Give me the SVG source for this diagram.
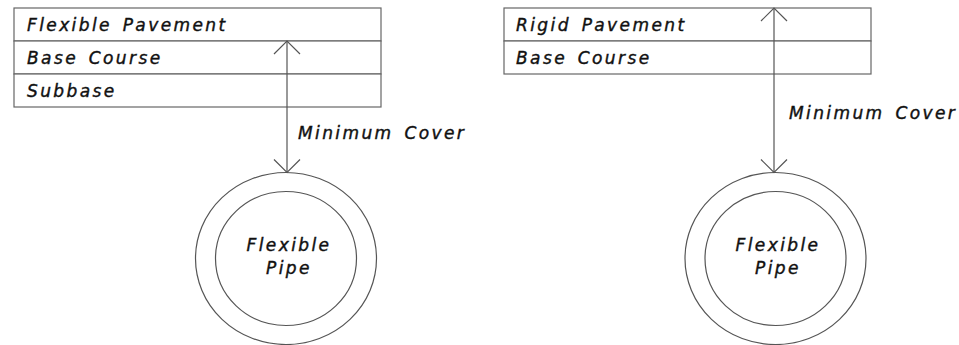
<svg xmlns="http://www.w3.org/2000/svg" width="959" height="345" viewBox="0 0 959 345">
<defs>
<style>
.box{fill:#fff;stroke:#666;stroke-width:1.2}
.ln{fill:none;stroke:#555;stroke-width:1.2}
.t{font-family:"DejaVu Sans",sans-serif;font-style:oblique;font-size:17px;letter-spacing:2.4px;word-spacing:3px;fill:#111;stroke:#111;stroke-width:0.4}
.c{text-anchor:middle}
</style>
<marker id="open" viewBox="-14 -14 15 28" refX="0" refY="0" markerWidth="15" markerHeight="28" markerUnits="userSpaceOnUse" orient="auto-start-reverse">
<path d="M-13,-13 L0,0 L-13,13" fill="none" stroke="#555" stroke-width="1.2"/>
</marker>
</defs>
<rect width="959" height="345" fill="#fff"/>
<g id="left-layers">
<rect class="box" x="14" y="8" width="367" height="33"/>
<rect class="box" x="14" y="41" width="367" height="33"/>
<rect class="box" x="14" y="74" width="367" height="33"/>
<text class="t" x="27" y="31">Flexible Pavement</text>
<text class="t" x="27" y="64">Base Course</text>
<text class="t" x="27" y="97">Subbase</text>
</g>
<g id="right-layers">
<rect class="box" x="504" y="8" width="367" height="33"/>
<rect class="box" x="504" y="41" width="367" height="33"/>
<text class="t" x="516" y="31">Rigid Pavement</text>
<text class="t" x="516" y="64">Base Course</text>
</g>
<g id="left-pipe">
<ellipse class="ln" cx="286" cy="258.5" rx="90.5" ry="86"/>
<ellipse class="ln" cx="286" cy="258.5" rx="70.5" ry="67"/>
<text class="t c" x="289" y="251">Flexible</text>
<text class="t c" x="289" y="274">Pipe</text>
</g>
<g id="right-pipe">
<ellipse class="ln" cx="775.5" cy="258.5" rx="90.5" ry="86"/>
<ellipse class="ln" cx="775.5" cy="258.5" rx="70.5" ry="67"/>
<text class="t c" x="778" y="251">Flexible</text>
<text class="t c" x="778" y="274">Pipe</text>
</g>
<g id="connectors">
<line class="ln" x1="287" y1="41" x2="287" y2="172.5" marker-start="url(#open)" marker-end="url(#open)"/>
<line class="ln" x1="774" y1="8" x2="774" y2="172.5" marker-start="url(#open)" marker-end="url(#open)"/>
<text class="t" x="298" y="139">Minimum Cover</text>
<text class="t" x="789" y="119">Minimum Cover</text>
</g>
</svg>
